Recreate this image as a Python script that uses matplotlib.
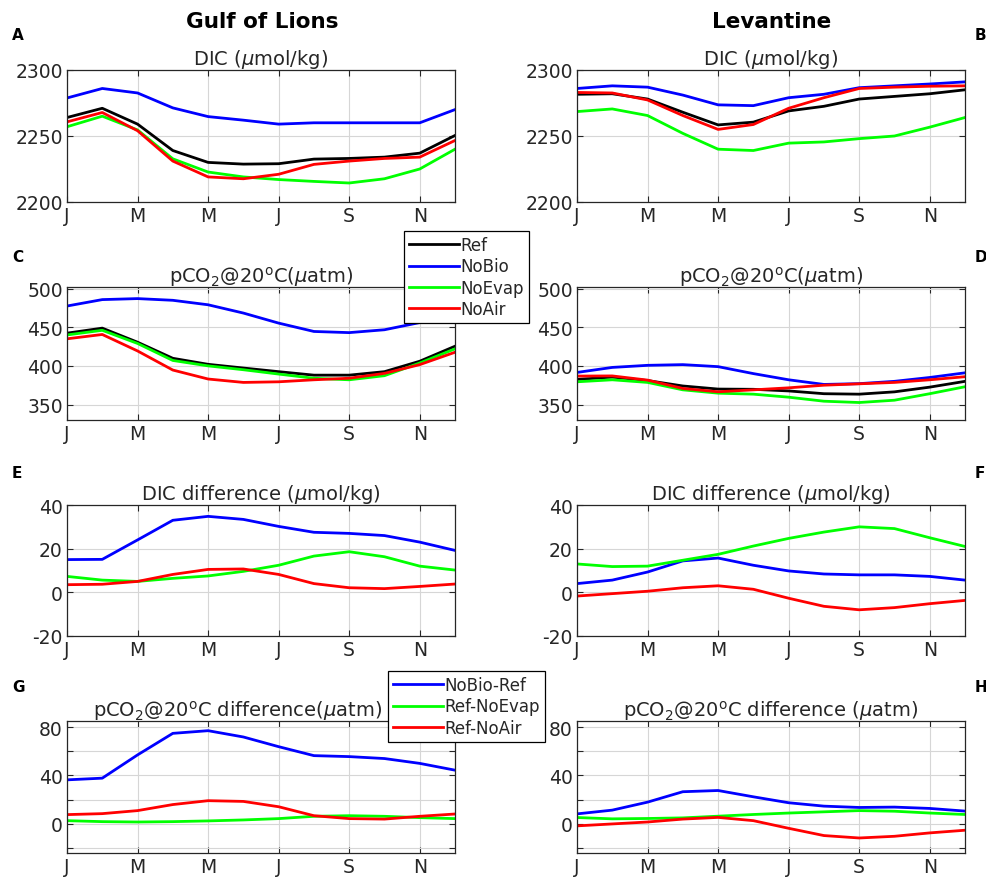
import numpy as np
import matplotlib.pyplot as plt

plt.rcParams['axes.unicode_minus'] = False

# month index and tick labels
months = np.arange(1, 13)
tick_pos = [1, 3, 5, 7, 9, 11]
tick_lab = ['J', 'M', 'M', 'J', 'S', 'N']

# A: Gulf of Lions DIC
gol_dic_ref = [2264, 2271, 2259, 2239, 2230, 2228.7, 2229, 2232.5, 2233, 2234, 2237, 2250.4]
gol_dic_nobio = [2278.8, 2286, 2282.6, 2271.3, 2264.7, 2262, 2259, 2260, 2260, 2260, 2260, 2270]
gol_dic_noevap = [2257, 2265, 2254.6, 2232.7, 2222.7, 2219, 2217, 2215.6, 2214.4, 2217.6, 2225, 2240]
gol_dic_noair = [2260.7, 2267.8, 2254, 2231, 2219, 2217.6, 2221, 2228.5, 2231, 2233, 2234, 2246.6]

# B: Levantine DIC
lev_dic_ref = [2281.6, 2282, 2278, 2268, 2258.4, 2260.5, 2269, 2272.5, 2278, 2280, 2282, 2285]
lev_dic_nobio = [2286, 2288, 2287, 2281, 2273.6, 2273, 2279, 2281.6, 2286.6, 2288, 2289.4, 2291]
lev_dic_noevap = [2268.5, 2270.5, 2265.5, 2252, 2240, 2239, 2244.6, 2245.5, 2248, 2250, 2256.7, 2264]
lev_dic_noair = [2283, 2282.6, 2277.3, 2265.5, 2255, 2258.7, 2271, 2279, 2286, 2287, 2287.7, 2288]

# C: Gulf of Lions pCO2 @20C
gol_pco2_ref = [442.3, 448.8, 430.6, 409.8, 402, 397.2, 392.5, 388, 388, 392.5, 406, 425.4]
gol_pco2_nobio = [477.4, 485.7, 487, 484.8, 479, 468.3, 455.3, 444.5, 443, 446.7, 456, 463]
gol_pco2_noevap = [440, 446, 429, 407, 400, 395, 389.4, 384, 382, 387.3, 403.7, 422]
gol_pco2_noair = [435, 440.6, 419.3, 394.6, 383, 378.6, 379.4, 382, 384, 390.3, 401.6, 417.6]

# D: Levantine pCO2 @20C
lev_pco2_ref = [382.5, 385.5, 381, 374, 370, 369.7, 367.6, 364, 363.4, 366.4, 372.5, 380]
lev_pco2_nobio = [391.5, 398, 400.7, 401.6, 399, 390, 382, 376, 377, 380, 385, 391]
lev_pco2_noevap = [379.4, 382, 378.6, 369, 364.7, 363.4, 359.5, 354.3, 352.6, 355.6, 364, 373]
lev_pco2_noair = [386.8, 387, 381.6, 370.8, 366.5, 369, 371.6, 375, 376.8, 378.6, 382, 386]

# E: Gulf of Lions DIC difference
gol_ddic_bio = [15, 15.1, 24, 33, 34.8, 33.4, 30.2, 27.5, 27, 26, 23, 19.2]
gol_ddic_evap = [7.3, 5.6, 5, 6.4, 7.5, 9.6, 12.4, 16.6, 18.6, 16.3, 12, 10.2]
gol_ddic_air = [3.5, 3.7, 5, 8.2, 10.5, 10.7, 8.2, 4, 2.1, 1.7, 2.7, 3.8]

# F: Levantine DIC difference
lev_ddic_bio = [4, 5.6, 9.3, 14.4, 15.7, 12.4, 9.8, 8.4, 8, 8, 7.3, 5.6]
lev_ddic_evap = [13, 11.8, 12, 14.7, 17.4, 21.2, 24.7, 27.6, 30, 29.2, 25, 21]
lev_ddic_air = [-1.7, -0.6, 0.5, 2.1, 3, 1.4, -2.7, -6.4, -8, -7, -5.2, -3.7]

# G: Gulf of Lions pCO2 difference
gol_dpco2_bio = [36.4, 37.8, 57, 74.8, 77, 71.8, 63.8, 56.4, 55.6, 54, 50, 44.4]
gol_dpco2_evap = [2.7, 1.9, 1.6, 1.9, 2.5, 3.3, 4.4, 6.3, 6.8, 6.3, 5.2, 4.4]
gol_dpco2_air = [7.7, 8.5, 11, 16, 19.2, 18.6, 14.2, 6.8, 4.4, 4, 6.3, 8.2]

# H: Levantine pCO2 difference
lev_dpco2_bio = [8.3, 11.4, 18, 26.6, 27.6, 22.4, 17.5, 14.7, 13.6, 13.9, 12.8, 10.6]
lev_dpco2_evap = [5.3, 4.2, 4.5, 5, 6.4, 7.8, 9, 10, 11, 10.5, 9, 7.8]
lev_dpco2_air = [-1.6, 0, 1.6, 4, 5.4, 2.7, -3.6, -9.6, -11.6, -10.2, -7.4, -5.2]

fig = plt.figure(figsize=(9.87, 8.79), dpi=100)

W, H = 987, 879
lefts = [67, 577]
tops = [71, 288, 506, 722]
bots = [203, 421, 637, 854]
axw = 388
txtc = '#262626'

def make_ax(col, row):
    ax = fig.add_axes([lefts[col] / W, 1 - bots[row] / H, axw / W, (bots[row] - tops[row]) / H])
    ax.set_xlim(1, 12)
    ax.set_xticks(tick_pos)
    ax.set_xticklabels(tick_lab)
    ax.tick_params(direction='in', top=True, right=True, labelsize=13.5, length=4,
                   colors=txtc, pad=3)
    ax.grid(True, color='#d6d6d6', lw=0.8)
    for s in ax.spines.values():
        s.set_color(txtc)
        s.set_linewidth(0.9)
    return ax

lw = 2.0
def four(ax, ref, nobio, noevap, noair):
    l1, = ax.plot(months, ref, color='black', lw=lw, label='Ref')
    l2, = ax.plot(months, nobio, color='blue', lw=lw, label='NoBio')
    l3, = ax.plot(months, noevap, color='#00ff00', lw=lw, label='NoEvap')
    l4, = ax.plot(months, noair, color='red', lw=lw, label='NoAir')
    return [l1, l2, l3, l4]

def three(ax, bio, evap, air):
    l1, = ax.plot(months, bio, color='blue', lw=lw, label='NoBio-Ref')
    l2, = ax.plot(months, evap, color='#00ff00', lw=lw, label='Ref-NoEvap')
    l3, = ax.plot(months, air, color='red', lw=lw, label='Ref-NoAir')
    return [l1, l2, l3]

tsize = 14
# row 1: DIC
for col, data in enumerate([(gol_dic_ref, gol_dic_nobio, gol_dic_noevap, gol_dic_noair),
                            (lev_dic_ref, lev_dic_nobio, lev_dic_noevap, lev_dic_noair)]):
    ax = make_ax(col, 0)
    four(ax, *data)
    ax.set_ylim(2200, 2300)
    ax.set_yticks([2200, 2250, 2300])
    ax.set_title(r'DIC ($\mu$mol/kg)', fontsize=tsize, pad=4, color=txtc)

# row 2: pCO2
handles4 = None
for col, data in enumerate([(gol_pco2_ref, gol_pco2_nobio, gol_pco2_noevap, gol_pco2_noair),
                            (lev_pco2_ref, lev_pco2_nobio, lev_pco2_noevap, lev_pco2_noair)]):
    ax = make_ax(col, 1)
    h = four(ax, *data)
    if handles4 is None:
        handles4 = h
    ax.set_ylim(330, 502)
    ax.set_yticks([350, 400, 450, 500])
    ax.set_title(r'pCO$_2$@20$^{\rm o}$C($\mu$atm)', fontsize=tsize, pad=4, color=txtc)

# row 3: DIC difference
for col, data in enumerate([(gol_ddic_bio, gol_ddic_evap, gol_ddic_air),
                            (lev_ddic_bio, lev_ddic_evap, lev_ddic_air)]):
    ax = make_ax(col, 2)
    three(ax, *data)
    ax.set_ylim(-20, 40)
    ax.set_yticks([-20, 0, 20, 40])
    ax.set_title(r'DIC difference ($\mu$mol/kg)', fontsize=tsize, pad=4, color=txtc)

# row 4: pCO2 difference
handles3 = None
titles_g = [r'pCO$_2$@20$^{\rm o}$C difference($\mu$atm)',
            r'pCO$_2$@20$^{\rm o}$C difference ($\mu$atm)']
title_x = [(238 - 67) / axw, 0.5]
for col, data in enumerate([(gol_dpco2_bio, gol_dpco2_evap, gol_dpco2_air),
                            (lev_dpco2_bio, lev_dpco2_evap, lev_dpco2_air)]):
    ax = make_ax(col, 3)
    h = three(ax, *data)
    if handles3 is None:
        handles3 = h
    ax.set_ylim(-24, 85)
    ax.set_yticks([-20, 0, 20, 40, 60, 80])
    ax.set_yticklabels(['', '0', '', '40', '', '80'])
    ax.set_title(titles_g[col], fontsize=tsize, pad=4, color=txtc, x=title_x[col])

leg_kw = dict(loc='upper left', fontsize=12, frameon=True, fancybox=False, edgecolor='black',
              framealpha=1, handlelength=3.0, handletextpad=0.1, borderaxespad=0, borderpad=0.3,
              labelspacing=0.2)
lg1 = fig.legend(handles=handles4, bbox_to_anchor=(404 / W, 1 - 232 / H), **leg_kw)
lg2 = fig.legend(handles=handles3, bbox_to_anchor=(388 / W, 1 - 672 / H), **leg_kw)
for lg in (lg1, lg2):
    lg.get_frame().set_linewidth(0.9)
    for t in lg.get_texts():
        t.set_color(txtc)

# column headings and panel letters
fig.text(262 / W, 1 - 22 / H, 'Gulf of Lions', ha='center', va='center', fontsize=15.5, fontweight='bold')
fig.text(772 / W, 1 - 22 / H, 'Levantine', ha='center', va='center', fontsize=15.5, fontweight='bold')
for letter, y in zip('ACEG', [35, 258, 474, 688]):
    fig.text(12 / W, 1 - y / H, letter, ha='left', va='center', fontsize=11, fontweight='bold')
for letter, y in zip('BDFH', [35, 258, 474, 688]):
    fig.text(975 / W, 1 - y / H, letter, ha='left', va='center', fontsize=11, fontweight='bold')

fig.savefig('out.png', dpi=100)
